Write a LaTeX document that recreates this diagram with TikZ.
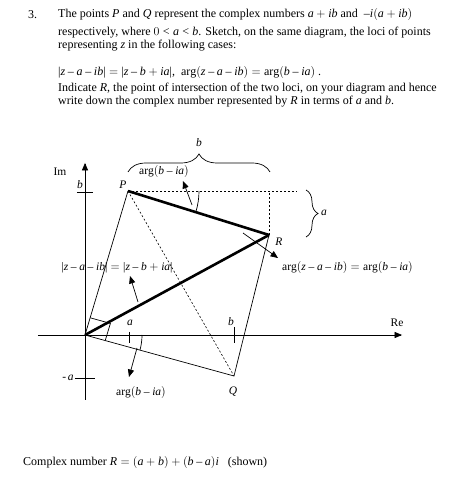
\documentclass[tikz,border=0pt]{standalone}
\usepackage{fontspec}
\setmainfont{Liberation Serif}
\usepackage[italic]{mathastext}
\usetikzlibrary{arrows,decorations.pathreplacing}

\tikzset{
  thinline/.style={line width=0.7pt},
  heavyline/.style={line width=2.6pt},
  guideline/.style={line width=0.6pt,dash pattern=on 2pt off 2pt},
  arr/.style={line width=0.7pt,arrows={- triangle 45}},
  bracket/.style={line width=0.7pt,decorate,decoration={brace,amplitude=#1}},
  txt/.style={anchor=west,inner sep=0pt},
  lbl/.style={font=\fontsize{11.5}{13}\selectfont},
}

\begin{document}
\begin{tikzpicture}[x=1pt,y=1pt,font=\fontsize{12}{14}\selectfont]
\useasboundingbox (-85,-154) rectangle (389,335);

% question
\node[txt] (num) at (-57,320) {3.};
\node[txt] (q1) at (-27,320) {The points $P$ and $Q$ represent the complex numbers $a+ib$ and \ $-i(a+ib)$};
\node[txt] (q2) at (-27,302) {respectively, where $0<a<b$. Sketch, on the same diagram, the loci of points};
\node[txt] (q3) at (-27,289) {representing $z$ in the following cases:};
\node[txt] (q4) at (-27,262) {$|z-a-ib|=|z-b+ia|$, \ $\arg(z-a-ib)=\arg(b-ia)$ .};
\node[txt] (q5) at (-27,246) {Indicate $R$, the point of intersection of the two loci, on your diagram and hence};
\node[txt] (q6) at (-27,233) {write down the complex number represented by $R$ in terms of $a$ and $b$.};

% axes
\coordinate (O) at (0,0);
\coordinate (reL) at (-47,0);
\coordinate (reR) at (317,0);
\coordinate (imB) at (0,-65);
\coordinate (imT) at (0,172);
\draw[arr] (reL) -- (reR);
\draw[arr] (imB) -- (imT);
\node[lbl] (Re) at (312,12) {Re};
\node[lbl] (Im) at (-25,163) {Im};

% ticks
\draw[thinline] (-8,143) -- (8,143);
\node[lbl] (tb) at (-5,150) {$b$};
\draw[thinline] (-10,-43) -- (10,-43);
\node[lbl] (ta) at (-17,-43) {-\,$a$};
\draw[thinline] (44,3) -- (44,-8);
\node[lbl] (ra) at (45,12) {$a$};
\draw[thinline] (149,8) -- (149,-8);
\node[lbl] (rb) at (146,13) {$b$};

% square O P R Q
\coordinate (P) at (43,144);
\coordinate (R) at (184,100);
\coordinate (Q) at (149,-41);
\node[lbl] (lP) at (38,150) {$P$};
\node[lbl] (lR) at (194,93) {$R$};
\node[lbl] (lQ) at (148,-57) {$Q$};
\draw[thinline] (O) -- (P);
\draw[thinline] (R) -- (Q) -- (O);
\draw[heavyline] (P) -- (R);
\draw[heavyline] (O) -- (R);
\draw[guideline] (P) -- (Q);

% right angle at O
\draw[thinline] (5.2,17.2) -- (25.4,11.6) -- (20.2,-5.6);

% dashed guides and braces
\coordinate (Pend) at (212,144);
\coordinate (Rtop) at (184,144);
\draw[guideline] (P) -- (Pend);
\draw[guideline] (R) -- (Rtop);
\draw[bracket=18pt] (43,163) -- (185,163);
\node[lbl] (bb) at (114,192) {$b$};
\draw[bracket=12pt] (221,145) -- (221,98);
\node[lbl] (ba) at (239,122) {$a$};

% angle at P
\draw[thinline] (P) ++(71,0) arc[start angle=0,end angle=-17.3,radius=71];
\coordinate (a1s) at (107,130);
\coordinate (a1e) at (98,154);
\draw[arr] (a1s) -- (a1e);
\node[lbl] (argP) at (79,163) {$\arg(b-ia)$};

% arrow across PR at R
\coordinate (a2s) at (158,102);
\coordinate (a2e) at (193,77);
\draw[arr] (a2s) -- (a2e);
\node[txt,lbl] (argR) at (197,67) {$\arg(z-a-ib)=\arg(b-ia)$};

% arrow across OR
\coordinate (a3s) at (53,33);
\coordinate (a3e) at (45,59);
\draw[arr] (a3s) -- (a3e);
\node[lbl] (bis) at (32,67) {$|z-a-ib|=|z-b+ia|$};

% angle at O
\draw[thinline] (O) ++(57,0) arc[start angle=0,end angle=-15.4,radius=57];
\coordinate (a4s) at (52,-13);
\coordinate (a4e) at (44,-42);
\draw[arr] (a4s) -- (a4e);
\node[lbl] (argO) at (56,-57) {$\arg(b-ia)$};

% answer
\node[txt] (ans) at (-62,-127) {Complex number $R=(a+b)+(b-a)i$ \ \ (shown)};

\end{tikzpicture}
\end{document}
